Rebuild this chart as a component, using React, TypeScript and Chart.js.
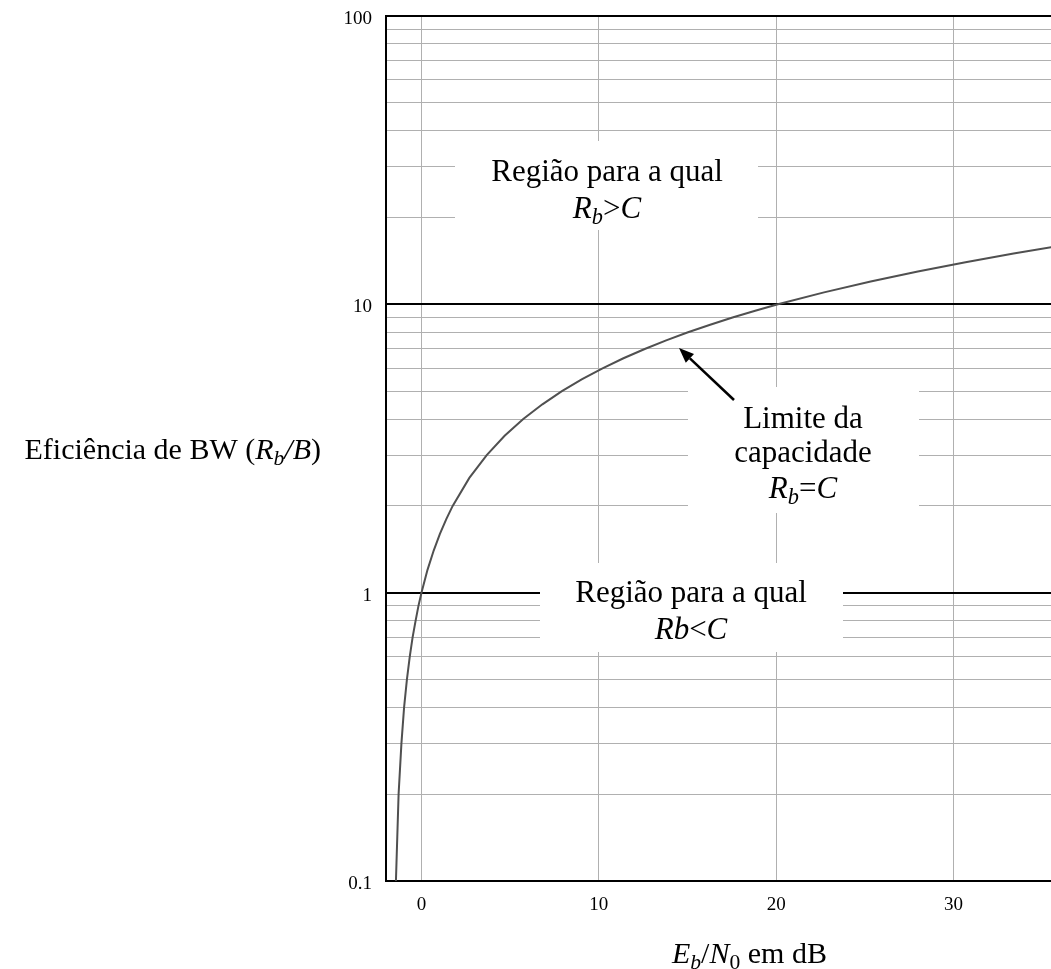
import React, { useEffect, useRef } from "react";
import { Chart, registerables } from "chart.js";

Chart.register(...registerables);

// Bandwidth efficiency Rb/B (y) and corresponding Eb/N0 in dB (x)
const bwEfficiency = [0.1, 0.2, 0.3, 0.4, 0.5, 0.6, 0.7, 0.8, 0.9, 1, 1.2, 1.4, 1.6, 1.8, 2, 2.5, 3, 3.5, 4, 4.5, 5, 5.5, 6, 6.5, 7, 7.5, 8, 8.5, 9, 9.5, 10, 11, 12, 13, 14, 15, 16];
const ebN0dB = [-1.44, -1.29, -1.13, -0.98, -0.82, -0.66, -0.5, -0.33, -0.17, 0, 0.34, 0.69, 1.04, 1.4, 1.76, 2.7, 3.68, 4.69, 5.74, 6.82, 7.92, 9.06, 10.21, 11.39, 12.59, 13.8, 15.03, 16.28, 17.54, 18.82, 20.1, 22.7, 25.33, 27.99, 30.68, 33.39, 36.12];

const xTickValues = [0, 10, 20, 30];
const yMajorTicks = [0.1, 1, 10, 100];
const yTickLabels = ["0.1", "1", "10", "100"];

const X_MIN = -2;
const X_MAX = 35.5;

const SERIF = '"Liberation Serif", "Times New Roman", serif';

type Run = { t: string; i?: boolean; sub?: boolean };

const isMajor = (v: number) => yMajorTicks.some((m) => Math.abs(Math.log10(v) - Math.log10(m)) < 1e-6);

function runFont(r: Run, size: number) {
  const s = r.sub ? size * 0.72 : size;
  return `${r.i ? "italic " : ""}${s}px ${SERIF}`;
}

function drawRuns(ctx: CanvasRenderingContext2D, runs: Run[], x: number, y: number, size: number, align: "left" | "center" | "right") {
  ctx.save();
  ctx.textBaseline = "alphabetic";
  ctx.textAlign = "left";
  let total = 0;
  const widths = runs.map((r) => {
    ctx.font = runFont(r, size);
    const w = ctx.measureText(r.t).width;
    total += w;
    return w;
  });
  let cx = align === "left" ? x : align === "center" ? x - total / 2 : x - total;
  runs.forEach((r, k) => {
    ctx.font = runFont(r, size);
    ctx.fillStyle = "#000";
    ctx.fillText(r.t, cx, r.sub ? y + size * 0.2 : y);
    cx += widths[k];
  });
  ctx.restore();
}

type Note = { box: [number, number, number, number]; cx: number; lines: { runs: Run[]; y: number }[] };

const notes: Note[] = [
  {
    box: [455, 141, 758, 230],
    cx: 607,
    lines: [
      { runs: [{ t: "Região para a qual" }], y: 181 },
      { runs: [{ t: "R", i: true }, { t: "b", i: true, sub: true }, { t: ">" }, { t: "C", i: true }], y: 218 },
    ],
  },
  {
    box: [688, 387, 919, 513],
    cx: 803,
    lines: [
      { runs: [{ t: "Limite da" }], y: 428 },
      { runs: [{ t: "capacidade" }], y: 462 },
      { runs: [{ t: "R", i: true }, { t: "b", i: true, sub: true }, { t: "=" }, { t: "C", i: true }], y: 498 },
    ],
  },
  {
    box: [540, 563, 843, 652],
    cx: 691,
    lines: [
      { runs: [{ t: "Região para a qual" }], y: 602 },
      { runs: [{ t: "Rb", i: true }, { t: "<" }, { t: "C", i: true }], y: 639 },
    ],
  },
];

const annotationPlugin = {
  id: "annotations",
  afterDraw(chart: any) {
    const ctx: CanvasRenderingContext2D = chart.ctx;
    ctx.save();
    for (const n of notes) {
      const [x1, y1, x2, y2] = n.box;
      ctx.fillStyle = "#fff";
      ctx.fillRect(x1, y1, x2 - x1, y2 - y1);
      for (const l of n.lines) drawRuns(ctx, l.runs, n.cx, l.y, 31, "center");
    }
    // arrow
    const tail = { x: 734, y: 400 };
    const tip = { x: 679, y: 348 };
    const ang = Math.atan2(tip.y - tail.y, tip.x - tail.x);
    const hl = 15;
    const hw = 6;
    const bx = tip.x - hl * Math.cos(ang);
    const by = tip.y - hl * Math.sin(ang);
    ctx.strokeStyle = "#000";
    ctx.lineWidth = 2.5;
    ctx.beginPath();
    ctx.moveTo(tail.x, tail.y);
    ctx.lineTo(bx, by);
    ctx.stroke();
    ctx.fillStyle = "#000";
    ctx.beginPath();
    ctx.moveTo(tip.x, tip.y);
    ctx.lineTo(bx + hw * Math.sin(ang), by - hw * Math.cos(ang));
    ctx.lineTo(bx - hw * Math.sin(ang), by + hw * Math.cos(ang));
    ctx.closePath();
    ctx.fill();

    // axis titles
    drawRuns(
      ctx,
      [
        { t: "Eficiência de BW (" },
        { t: "R", i: true },
        { t: "b", i: true, sub: true },
        { t: "/B", i: true },
        { t: ")" },
      ],
      321,
      459,
      30,
      "right"
    );
    drawRuns(
      ctx,
      [
        { t: "E", i: true },
        { t: "b", i: true, sub: true },
        { t: "/" },
        { t: "N", i: true },
        { t: "0", sub: true },
        { t: " em dB" },
      ],
      672,
      963,
      30,
      "left"
    );
    ctx.restore();
  },
};

export default function App() {
  const ref = useRef<HTMLCanvasElement | null>(null);

  useEffect(() => {
    if (!ref.current) return;
    const yGridValues: number[] = [];
    for (let d = 0; d < yMajorTicks.length - 1; d++) {
      for (let m = 1; m <= 9; m++) yGridValues.push(+(m * yMajorTicks[d]).toPrecision(6));
    }
    yGridValues.push(yMajorTicks[yMajorTicks.length - 1]);

    const chart = new Chart(ref.current, {
      type: "line",
      data: {
        datasets: [
          {
            data: ebN0dB.map((x, k) => ({ x, y: bwEfficiency[k] })),
            borderColor: "#505050",
            borderWidth: 2,
            pointRadius: 0,
            tension: 0,
            fill: false,
          },
        ],
      },
      options: {
        responsive: false,
        maintainAspectRatio: false,
        devicePixelRatio: 1,
        animation: false,
        layout: { padding: { top: 16, left: 0, right: 0, bottom: 0 } },
        plugins: { legend: { display: false }, tooltip: { enabled: false } },
        scales: {
          x: {
            type: "linear",
            min: X_MIN,
            max: X_MAX,
            afterBuildTicks: (scale: any) => {
              scale.ticks = xTickValues.map((v) => ({ value: v }));
            },
            afterFit: (scale: any) => {
              scale.height = 88;
              scale.paddingLeft = 0;
              scale.paddingRight = 0;
            },
            grid: { color: "#b0b0b0", lineWidth: 1, drawTicks: false },
            border: { display: true, color: "#000", width: 2 },
            ticks: {
              color: "#000",
              padding: 13,
              font: { family: SERIF, size: 19 },
              callback: (v: any) => String(v),
            },
          },
          y: {
            type: "logarithmic",
            min: 0.1,
            max: 100,
            afterBuildTicks: (scale: any) => {
              scale.ticks = yGridValues.map((v) => ({ value: v, major: isMajor(v) }));
            },
            afterFit: (scale: any) => {
              scale.width = 386;
              scale.paddingTop = 0;
              scale.paddingBottom = 0;
            },
            grid: {
              color: (c: any) => (c.tick && isMajor(c.tick.value) ? "#000" : "#b0b0b0"),
              lineWidth: (c: any) => (c.tick && isMajor(c.tick.value) ? 2 : 1),
              drawTicks: false,
            },
            border: { display: true, color: "#000", width: 2 },
            ticks: {
              color: "#000",
              padding: 14,
              labelOffset: 3,
              autoSkip: false,
              font: { family: SERIF, size: 19 },
              callback: (v: any) => {
                const k = yMajorTicks.findIndex((m) => Math.abs(Math.log10(Number(v)) - Math.log10(m)) < 1e-6);
                return k >= 0 ? yTickLabels[k] : "";
              },
            },
          },
        },
      },
      plugins: [annotationPlugin],
    } as any);
    return () => chart.destroy();
  }, []);

  return (
    <div style={{ position: "absolute", left: 0, top: 0, width: 1051, height: 969, background: "#fff" }}>
      <canvas ref={ref} width={1051} height={969} style={{ width: 1051, height: 969, display: "block" }} />
    </div>
  );
}
